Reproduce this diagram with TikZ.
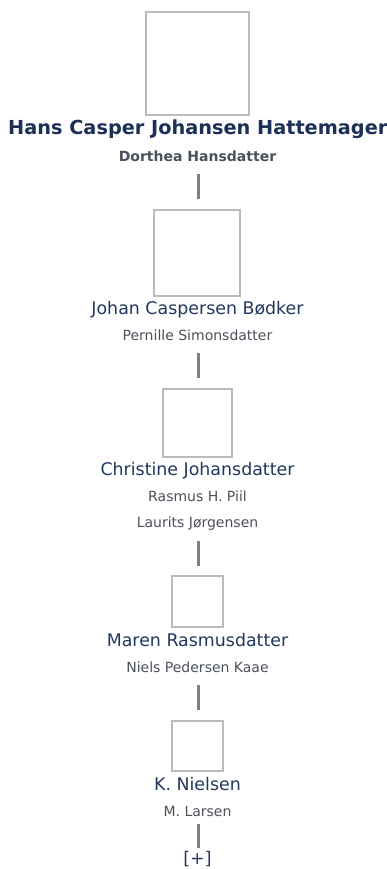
\documentclass[tikz,border=0pt]{standalone}
\usepackage{fontspec}
\setmainfont{DejaVu Sans}
\definecolor{titlec}{HTML}{1B2F57}
\definecolor{namec}{HTML}{22375E}
\definecolor{subc}{HTML}{4B505A}
\definecolor{boxc}{HTML}{BBBBBB}
\definecolor{linkc}{HTML}{7F7F7F}
\begin{document}
\begin{tikzpicture}[x=1pt,y=-1pt,
  photo/.style={draw=boxc,line width=1.8pt,fill=white},
  link/.style={draw=linkc,line width=2.8pt},
  title/.style={anchor=base,inner sep=0pt,text=titlec,font=\fontsize{19.3}{22}\selectfont\bfseries},
  spousebold/.style={anchor=base,inner sep=0pt,text=subc,font=\fontsize{14}{16}\selectfont\bfseries},
  pname/.style={anchor=base,inner sep=0pt,text=namec,font=\fontsize{17.4}{20}\selectfont},
  spouse/.style={anchor=base,inner sep=0pt,text=subc,font=\fontsize{14}{16}\selectfont},
  more/.style={anchor=base,inner sep=0pt,text=namec,font=\fontsize{17.4}{20}\selectfont}]
\useasboundingbox (0,0) rectangle (386,869);
% boxes
\draw[photo] (146,12) rectangle (249,115);
\draw[photo] (154,210) rectangle (240,296);
\draw[photo] (163,389) rectangle (232,457);
\draw[photo] (172,576) rectangle (223,627);
\draw[photo] (172,721) rectangle (223,771);
\coordinate (p1) at (197.5,115);
% texts
\node[title] (n1) at (197.8,134.5) {Hans Casper Johansen Hattemager};
\node[spousebold] (s1) at (197.5,161.5) {Dorthea Hansdatter};
\node[pname] (n2) at (197.5,314) {Johan Caspersen Bødker};
\node[spouse] (s2) at (197.5,340.5) {Pernille Simonsdatter};
\node[pname] (n3) at (197.5,475) {Christine Johansdatter};
\node[spouse] (s3a) at (197.5,501.5) {Rasmus H. Piil};
\node[spouse] (s3b) at (197.5,527) {Laurits Jørgensen};
\node[pname] (n4) at (197.5,646.5) {Maren Rasmusdatter};
\node[spouse] (s4) at (197.5,672.3) {Niels Pedersen Kaae};
\node[pname] (n5) at (197.5,790.7) {K. Nielsen};
\node[spouse] (s5) at (197.5,816.7) {M. Larsen};
\node[more] (m) at (197.5,864.5) {[+]};
% connectors
\coordinate (a1) at (198.5,174); \coordinate (b1) at (198.5,199);
\coordinate (a2) at (198.5,353); \coordinate (b2) at (198.5,378);
\coordinate (a3) at (198.5,541); \coordinate (b3) at (198.5,566);
\coordinate (a4) at (198.5,685); \coordinate (b4) at (198.5,710);
\coordinate (a5) at (198.5,824); \coordinate (b5) at (198.5,848);
\draw[link] (a1) -- (b1);
\draw[link] (a2) -- (b2);
\draw[link] (a3) -- (b3);
\draw[link] (a4) -- (b4);
\draw[link] (a5) -- (b5);
\end{tikzpicture}
\end{document}
